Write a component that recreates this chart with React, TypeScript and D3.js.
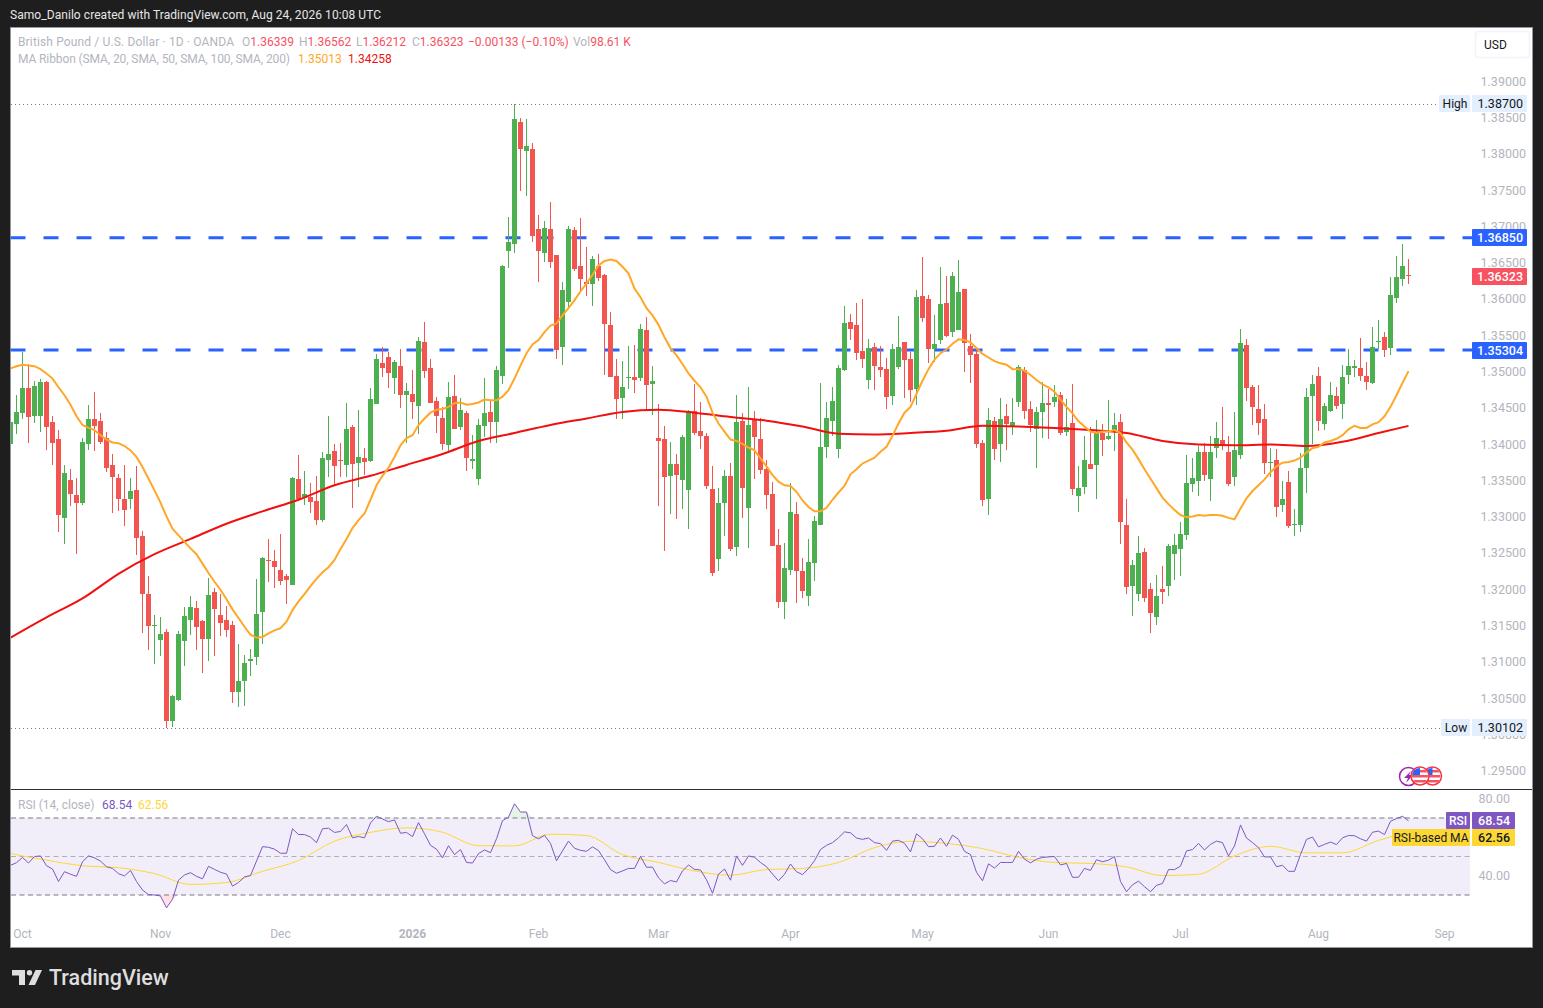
import React from 'react';
import * as d3 from 'd3';

const opens = [
  13401,13428,13443,13478,13439,13439,13486,13431,13408,13299,
  13351,13331,13320,13401,13435,13432,13409,13372,13354,13325,
  13325,13337,13274,13194,13150,13131,13142,13019,13048,13129,
  13158,13175,13157,13132,13197,13165,13158,13151,13059,13074,
  13102,13107,13169,13241,13240,13227,13219,13207,13353,13326,
  13328,13322,13296,13379,13391,13379,13372,13424,13375,13381,
  13377,13456,13512,13521,13492,13508,13468,13470,13453,13541,
  13505,13460,13437,13399,13467,13424,13444,13377,13353,13426,
  13445,13431,13495,13667,13676,13844,13805,13807,13697,13664,
  13697,13661,13534,13596,13696,13646,13624,13621,13646,13634,
  13565,13494,13464,13492,13493,13492,13558,13483,13409,13408,
  13357,13373,13351,13337,13446,13419,13412,13339,13242,13320,
  13357,13259,13432,13313,13435,13408,13366,13332,13262,13183,
  13227,13304,13226,13191,13237,13289,13397,13432,13394,13503,
  13569,13565,13529,13489,13534,13507,13504,13467,13507,13541,
  13518,13477,13605,13601,13532,13544,13595,13555,13558,13614,
  13536,13525,13402,13325,13432,13401,13439,13426,13459,13503,
  13449,13421,13445,13457,13459,13468,13417,13430,13329,13342,
  13373,13372,13416,13408,13417,13431,13289,13205,13194,13252,
  13201,13162,13201,13205,13249,13256,13276,13346,13350,13390,
  13353,13395,13406,13390,13355,13386,13537,13479,13449,13435,
  13375,13379,13317,13348,13289,13289,13368,13467,13495,13428,
  13446,13467,13456,13496,13505,13505,13495,13485,13541,13548,
  13533,13602,13628,13633.9,
];
const highs = [
  13457,13468,13528,13511,13488,13490,13488,13439,13420,13372,
  13366,13354,13409,13455,13472,13443,13417,13387,13360,13372,
  13354,13370,13281,13219,13165,13162,13146,13055,13143,13176,
  13191,13184,13158,13216,13202,13194,13178,13157,13125,13110,
  13118,13215,13245,13270,13255,13277,13222,13355,13386,13364,
  13347,13357,13390,13439,13401,13402,13457,13427,13448,13395,
  13478,13525,13534,13528,13517,13532,13485,13503,13548,13569,
  13518,13466,13452,13486,13496,13464,13446,13413,13435,13492,
  13460,13508,13647,13714,13870,13850,13849,13816,13716,13708,
  13734,13661,13624,13701,13700,13712,13672,13660,13663,13635,
  13583,13518,13515,13536,13537,13566,13576,13508,13456,13426,
  13403,13387,13413,13448,13483,13459,13416,13370,13340,13365,
  13375,13468,13443,13479,13446,13436,13379,13348,13284,13264,
  13347,13321,13244,13270,13302,13485,13459,13479,13510,13591,
  13580,13595,13601,13545,13540,13536,13519,13539,13577,13541,
  13528,13613,13658,13606,13579,13645,13632,13638,13654,13614,
  13552,13534,13406,13450,13438,13464,13456,13464,13510,13507,
  13460,13452,13486,13477,13482,13472,13463,13483,13370,13412,
  13424,13434,13428,13461,13443,13442,13325,13241,13274,13257,
  13209,13220,13233,13263,13277,13293,13386,13381,13398,13402,
  13412,13431,13452,13412,13445,13559,13546,13482,13482,13456,
  13395,13394,13350,13364,13311,13388,13478,13496,13507,13457,
  13486,13479,13510,13532,13517,13547,13514,13562,13572,13555,
  13631,13660,13676,13656.2,
];
const lows = [
  13397,13415,13435,13402,13430,13417,13393,13372,13280,13263,
  13315,13249,13317,13393,13391,13401,13362,13306,13308,13288,
  13311,13248,13140,13117,13098,13109,13010,13011,13047,13095,
  13138,13117,13085,13102,13109,13136,13135,13044,13038,13040,
  13081,13096,13125,13211,13202,13207,13180,13207,13322,13317,
  13306,13289,13294,13355,13343,13355,13355,13313,13342,13358,
  13376,13456,13493,13478,13470,13450,13402,13435,13415,13492,
  13457,13416,13392,13391,13421,13420,13364,13366,13344,13410,
  13402,13402,13483,13643,13664,13749,13743,13679,13624,13652,
  13643,13518,13510,13587,13639,13610,13605,13591,13625,13496,
  13493,13435,13435,13477,13471,13488,13446,13441,13315,13253,
  13304,13297,13311,13284,13413,13394,13339,13219,13226,13274,
  13253,13246,13299,13257,13353,13359,13311,13260,13175,13160,
  13220,13182,13189,13178,13212,13289,13381,13412,13381,13501,
  13544,13516,13506,13477,13475,13493,13449,13455,13504,13464,
  13459,13455,13569,13512,13514,13539,13548,13548,13558,13500,
  13485,13395,13315,13303,13379,13376,13393,13413,13452,13435,
  13417,13368,13409,13408,13452,13413,13412,13331,13307,13332,
  13366,13325,13384,13406,13391,13263,13194,13164,13184,13183,
  13140,13151,13180,13191,13213,13219,13269,13335,13329,13350,
  13322,13381,13393,13343,13343,13380,13460,13427,13413,13359,
  13355,13300,13307,13285,13274,13280,13333,13401,13419,13420,
  13445,13449,13435,13484,13493,13488,13475,13484,13532,13521,
  13523,13595,13618,13621.2,
];
const closes = [
  13431,13445,13478,13438,13481,13486,13424,13402,13303,13361,
  13332,13320,13404,13435,13426,13404,13368,13355,13325,13310,
  13336,13271,13194,13150,13151,13139,13019,13054,13139,13164,
  13176,13149,13132,13193,13173,13154,13144,13059,13074,13099,
  13105,13167,13244,13240,13231,13212,13213,13354,13325,13332,
  13321,13296,13381,13387,13370,13377,13421,13373,13383,13376,
  13463,13518,13505,13499,13514,13468,13474,13459,13543,13501,
  13457,13439,13401,13466,13421,13448,13381,13380,13427,13444,
  13431,13503,13646,13679,13849,13807,13811,13687,13667,13698,
  13652,13530,13613,13697,13642,13628,13621,13656,13629,13566,
  13493,13463,13479,13493,13489,13559,13482,13488,13405,13355,
  13373,13358,13410,13446,13416,13412,13343,13223,13320,13357,
  13256,13431,13340,13427,13410,13365,13331,13260,13183,13230,
  13307,13226,13198,13238,13295,13397,13437,13460,13505,13567,
  13559,13526,13518,13533,13508,13503,13466,13532,13534,13517,
  13475,13603,13574,13532,13539,13594,13549,13632,13610,13540,
  13523,13401,13324,13434,13394,13435,13428,13431,13507,13446,
  13427,13445,13457,13455,13466,13416,13424,13339,13340,13379,
  13366,13416,13406,13412,13427,13293,13204,13234,13251,13189,
  13168,13191,13197,13260,13262,13277,13347,13354,13390,13358,
  13390,13409,13399,13346,13393,13540,13478,13452,13430,13375,
  13376,13314,13325,13288,13291,13368,13465,13484,13433,13453,
  13468,13453,13493,13508,13508,13495,13486,13534,13543,13530,
  13606,13631,13646,13632.3,
];
const ma20 = [
  13505,13508,13510,13509,13508,13504,13498,13491,13479,13468,
  13455,13439,13427,13423,13420,13413,13407,13403,13402,13398,
  13392,13383,13369,13353,13337,13320,13301,13284,13275,13266,
  13257,13249,13236,13223,13211,13200,13187,13173,13161,13149,
  13138,13134,13135,13140,13144,13147,13156,13172,13184,13194,
  13205,13215,13224,13231,13241,13256,13270,13285,13296,13305,
  13324,13344,13357,13368,13383,13399,13409,13413,13427,13436,
  13444,13448,13449,13452,13457,13458,13455,13456,13458,13462,
  13461,13461,13466,13475,13491,13509,13526,13538,13544,13555,
  13564,13567,13578,13588,13599,13611,13622,13634,13647,13653,
  13655,13653,13645,13636,13615,13603,13588,13578,13565,13548,
  13533,13523,13511,13498,13488,13479,13466,13444,13429,13418,
  13407,13405,13401,13396,13392,13381,13370,13358,13349,13344,
  13343,13335,13323,13314,13308,13308,13313,13324,13334,13343,
  13359,13366,13374,13378,13382,13390,13397,13412,13429,13444,
  13452,13470,13488,13504,13517,13526,13531,13539,13545,13544,
  13541,13533,13525,13520,13515,13512,13510,13504,13504,13502,
  13496,13489,13483,13479,13473,13462,13452,13443,13432,13425,
  13418,13416,13418,13418,13420,13416,13403,13393,13380,13366,
  13353,13340,13327,13318,13310,13303,13300,13301,13303,13302,
  13303,13303,13302,13299,13297,13312,13326,13336,13344,13352,
  13362,13370,13375,13376,13378,13382,13389,13395,13397,13403,
  13405,13408,13413,13421,13426,13423,13423,13428,13431,13439,
  13452,13468,13485,13501.3,
];
// smooth lines, read every sixth candle
const ma200At = [
  0,6,12,18,24,30,36,42,48,54,60,66,72,78,84,90,96,102,108,114,120,126,132,138,
  144,150,156,162,168,174,180,186,192,198,204,210,216,222,228,233,
];
const ma200 = [
  13134,13162,13188,13222,13249,13270,13291,13308,13324,13344,13357,13372,13387,13405,13416,13427,13436,13445,13448,13444,13438,13433,13425,13415,
  13414,13416,13419,13426,13425,13423,13420,13416,13405,13400,13399,13400,13398,13404,13416,13425.8,
];
const rsi = [
  45.4,46.8,49.5,46.6,50.0,50.3,45.2,43.5,37.0,42.1,
  40.8,39.7,47.3,50.3,49.3,47.6,44.7,43.8,41.1,39.9,
  42.8,37.0,32.6,30.2,30.0,29.5,23.3,27.8,37.7,40.4,
  41.6,39.7,38.4,44.9,43.3,41.8,40.9,34.6,36.5,39.4,
  40.1,47.6,55.1,54.8,53.8,51.7,51.7,64.4,61.4,61.4,
  60.1,57.2,64.4,64.7,62.5,63.0,66.6,59.7,60.4,59.7,
  67.4,70.9,69.5,68.1,69.0,62.1,62.5,60.3,67.6,61.8,
  55.8,53.8,49.3,55.6,51.0,53.6,46.9,46.6,51.5,53.4,
  52.0,59.2,68.6,70.5,77.4,73.1,73.1,60.8,59.2,61.0,
  56.8,47.8,52.9,58.0,54.3,53.2,52.7,55.0,53.1,48.3,
  43.2,41.3,42.5,43.8,43.8,50.0,44.4,44.5,38.9,35.8,
  37.5,36.8,42.5,45.6,43.3,43.0,37.9,30.9,40.8,43.5,
  37.7,50.3,45.4,50.3,49.6,46.9,44.7,40.9,37.4,40.8,
  46.1,42.1,40.6,43.7,47.8,53.6,55.8,57.2,59.7,62.8,
  62.3,59.6,58.9,59.6,57.2,56.7,53.2,58.0,58.4,56.8,
  52.4,61.8,59.2,55.1,55.3,59.6,55.3,61.1,58.9,52.7,
  51.0,41.8,37.4,46.2,44.0,46.9,46.9,46.9,52.7,48.6,
  46.7,48.6,49.5,49.8,50.0,45.6,46.4,39.2,39.2,43.8,
  42.8,48.3,47.3,48.1,50.0,37.0,31.7,35.3,37.2,34.3,
  31.7,35.0,36.0,43.2,43.2,45.0,52.9,53.6,56.8,53.4,
  56.3,58.0,57.2,50.3,55.5,66.4,59.6,57.2,54.6,49.8,
  49.8,44.7,45.4,42.3,42.3,51.0,58.9,60.1,55.0,56.3,
  57.5,56.2,59.7,60.9,60.8,59.2,58.0,62.6,63.2,61.4,
  68.3,69.7,70.9,68.54,
];
const rsiMa = [
  51.5,48.1,45.2,44.2,41.1,35.5,36.5,42.3,47.9,58.0,62.5,64.9,62.6,55.6,55.5,61.6,60.9,51.0,46.9,42.5,40.3,43.2,43.8,46.9,
  54.6,57.9,56.8,54.1,49.6,46.9,46.4,44.6,40.1,40.8,50.3,55.3,51.9,51.9,58.4,62.56,
];

const priceTicks = [1.39,1.385,1.38,1.375,1.37,1.365,1.36,1.355,1.35,1.345,1.34,1.335,1.33,1.325,1.32,1.315,1.31,1.305,1.3,1.295];
const rsiTicks = [80,40];
const monthLabels = ['Oct','Nov','Dec','2026','Feb','Mar','Apr','May','Jun','Jul','Aug','Sep'];
const monthAt = [2,25,45,67,88,108,130,152,173,195,218,239];
const levels = [1.3685,1.35304];

const UP = '#4CAF50';
const DOWN = '#F25450';
const GREY = '#B2B5BE';
const FONT = 'Roboto, "Noto Sans", sans-serif';

const x = d3.scaleLinear().domain([0, 233]).range([10.5, 1408.5]);
const y = d3.scaleLinear().domain([1.30102, 1.387]).range([727.5, 103.5]);
const yPip = (p: number) => y(p / 10000);
const yRsi = d3.scaleLinear().domain([30, 70]).range([895, 818]);

const FlagIcon = ({ cx, cy }: { cx: number; cy: number }) => (
  <g transform={`translate(${cx},${cy})`}>
    <circle r={9} fill="#fff" stroke="#F23645" strokeWidth={1.5} />
    <g clipPath="url(#flagClip)">
      <rect x={-8} y={-6} width={16} height={2.5} fill="#F7525F" />
      <rect x={-8} y={-1} width={16} height={2.5} fill="#F7525F" />
      <rect x={-8} y={4} width={16} height={2.5} fill="#F7525F" />
      <rect x={-8} y={-8} width={8} height={7} fill="#2962FF" />
    </g>
  </g>
);

const PriceTag = ({ yc, text, fill, color = '#fff', weight = 500 }: { yc: number; text: string; fill: string; color?: string; weight?: number }) => (
  <g>
    <rect x={1472} y={yc - 8.5} width={55} height={17} rx={1} fill={fill} />
    <text x={1523} y={yc + 4.5} textAnchor="end" fontSize={12.5} fontWeight={weight} fill={color}>{text}</text>
  </g>
);

export default function App() {
  const ma20Line = d3.line<number>().x((_, i) => x(i)).y(d => yPip(d));
  const ma200Line = d3.line<number>().x((_, i) => x(ma200At[i])).y(d => yPip(d)).curve(d3.curveMonotoneX);
  const rsiLine = d3.line<number>().x((_, i) => x(i)).y(d => yRsi(d));
  const rsiMaLine = d3.line<number>().x((_, i) => x(ma200At[i])).y(d => yRsi(d)).curve(d3.curveMonotoneX);
  const overArea = d3.area<number>().x((_, i) => x(i)).y0(yRsi(70)).y1(d => yRsi(Math.max(d, 70)));
  const underArea = d3.area<number>().x((_, i) => x(i)).y0(yRsi(30)).y1(d => yRsi(Math.min(d, 30)));

  return (
    <svg
      width={1543}
      height={1008}
      style={{ position: 'fixed', left: 0, top: 0, background: '#1E1E1E' }}
      fontFamily={FONT}
    >
      <defs>
        <clipPath id="plot"><rect x={11} y={28} width={1461} height={761} /></clipPath>
        <clipPath id="rsiPlot"><rect x={11} y={790} width={1461} height={130} /></clipPath>
        <clipPath id="flagClip"><circle r={8} /></clipPath>
      </defs>

      <text x={10} y={18.5} fontSize={12} textLength={371} fill="#E6E6E6">Samo_Danilo created with TradingView.com, Aug 24, 2026 10:08 UTC</text>

      <rect x={10.5} y={27.5} width={1522} height={920} fill="#fff" stroke="#9598A1" />
      <line x1={11} x2={1532} y1={789.5} y2={789.5} stroke="#2A2E39" />

      {/* high / low markers and the two drawn levels sit behind the candles */}
      {[1.387, 1.30102].map(p => (
        <line key={p} x1={11} x2={1440} y1={Math.round(y(p)) + 0.5} y2={Math.round(y(p)) + 0.5} stroke="#787B86" strokeDasharray="1 3" />
      ))}
      {levels.map(p => (
        <line key={p} x1={10.5} x2={1472} y1={y(p)} y2={y(p)} stroke="#2962FF" strokeWidth={3} strokeDasharray="15 18" />
      ))}

      <g clipPath="url(#plot)" shapeRendering="crispEdges">
        {closes.map((c, i) => {
          const color = c >= opens[i] ? UP : DOWN;
          const cx = Math.floor(x(i));
          const top = Math.round(yPip(Math.max(c, opens[i])));
          const bottom = Math.round(yPip(Math.min(c, opens[i])));
          const hi = Math.round(yPip(highs[i]));
          const lo = Math.round(yPip(lows[i]));
          return (
            <g key={i} fill={color}>
              <rect x={cx} y={hi} width={1} height={Math.max(lo - hi, 1)} />
              <rect x={cx - 2} y={top} width={5} height={Math.max(bottom - top, 1)} />
            </g>
          );
        })}
      </g>

      <g clipPath="url(#plot)" fill="none" strokeWidth={2}>
        <path d={ma200Line(ma200) ?? ''} stroke="#F01010" />
        <path d={ma20Line(ma20) ?? ''} stroke="#FFA726" />
      </g>

      {/* price axis */}
      <g fontSize={12.5} fill={GREY} textAnchor="end">
        {priceTicks.map(p => (
          <text key={p} x={1526} y={y(p) + 4}>{p.toFixed(5)}</text>
        ))}
      </g>
      <rect x={1475.5} y={31.5} width={54} height={26} rx={3} fill="#fff" stroke="#F0F3FA" strokeWidth={1.5} />
      <text x={1484} y={49} fontSize={12} fill="#131722">USD</text>

      <rect x={1439} y={95} width={31} height={17} rx={1} fill="#E3EFFD" />
      <text x={1455} y={107.5} textAnchor="middle" fontSize={12} fill="#131722">High</text>
      <PriceTag yc={103.5} text="1.38700" fill="#E3EFFD" color="#131722" weight={400} />
      <rect x={1441} y={719} width={29} height={17} rx={1} fill="#E3EFFD" />
      <text x={1456} y={731.5} textAnchor="middle" fontSize={12} fill="#131722">Low</text>
      <PriceTag yc={727.5} text="1.30102" fill="#E3EFFD" color="#131722" weight={400} />
      <PriceTag yc={237.5} text="1.36850" fill="#2962FF" />
      <PriceTag yc={350.5} text="1.35304" fill="#2962FF" />
      <PriceTag yc={276.5} text="1.36323" fill="#F7525F" />

      {/* event icons */}
      <FlagIcon cx={1432.5} cy={776} />
      <circle cx={1408.5} cy={776.5} r={9} fill="#fff" stroke="#9C27B0" strokeWidth={1.5} />
      <path d="M1411 771 L1404 778 L1408 778 L1406 783 L1413 775 L1409 775 Z" fill="#9C27B0" />
      <FlagIcon cx={1420} cy={776} />

      {/* legend */}
      <g fontSize={12}>
        <text x={18} y={46} textLength={216} fill={GREY}>British Pound / U.S. Dollar · 1D · OANDA</text>
        <text x={242} y={46} fill={GREY}>O<tspan fill="#F7525F">1.36339</tspan></text>
        <text x={299} y={46} fill={GREY}>H<tspan fill="#F7525F">1.36562</tspan></text>
        <text x={356} y={46} fill={GREY}>L<tspan fill="#F7525F">1.36212</tspan></text>
        <text x={412} y={46} fill={GREY}>C<tspan fill="#F7525F">1.36323</tspan></text>
        <text x={468} y={46} fill="#F7525F">−0.00133 (−0.10%)</text>
        <text x={573} y={46} fill={GREY}>Vol<tspan fill="#F7525F">98.61 K</tspan></text>
        <text x={18} y={63} textLength={272} fill={GREY}>MA Ribbon (SMA, 20, SMA, 50, SMA, 100, SMA, 200)</text>
        <text x={298} y={63} fill="#FFA726">1.35013</text>
        <text x={348} y={63} fill="#F01010">1.34258</text>
      </g>

      {/* RSI pane */}
      <rect x={11} y={yRsi(70)} width={1459} height={yRsi(30) - yRsi(70)} fill="#7E57C2" fillOpacity={0.1} />
      <line x1={11} x2={1470} y1={yRsi(70)} y2={yRsi(70)} stroke="#787B86" strokeDasharray="5 3.5" />
      <line x1={11} x2={1470} y1={yRsi(50)} y2={yRsi(50)} stroke="#787B86" strokeOpacity={0.55} strokeDasharray="5 3.5" />
      <line x1={11} x2={1470} y1={yRsi(30)} y2={yRsi(30)} stroke="#787B86" strokeDasharray="5 3.5" />
      <g clipPath="url(#rsiPlot)">
        <path d={overArea(rsi) ?? ''} fill="#4CAF50" fillOpacity={0.15} />
        <path d={underArea(rsi) ?? ''} fill="#F23645" fillOpacity={0.15} />
        <path d={rsiMaLine(rsiMa) ?? ''} fill="none" stroke="#FDD835" strokeWidth={1} />
        <path d={rsiLine(rsi) ?? ''} fill="none" stroke="#7E57C2" strokeWidth={1} />
      </g>
      <text x={18} y={809} fontSize={12} fill={GREY}>RSI (14, close)</text>
      <text x={102} y={809} fontSize={12} fill="#7E57C2">68.54</text>
      <text x={138} y={809} fontSize={12} fill="#FDD835">62.56</text>

      <g fontSize={12.5} fill={GREY} textAnchor="end">
        {rsiTicks.map(v => (
          <text key={v} x={1510} y={yRsi(v) + 4}>{v.toFixed(2)}</text>
        ))}
      </g>
      <rect x={1446} y={812} width={24} height={17} rx={1} fill="#7E57C2" />
      <text x={1458} y={825} textAnchor="middle" fontSize={12} fontWeight={500} fill="#fff">RSI</text>
      <rect x={1472} y={812} width={43} height={17} rx={1} fill="#7E57C2" />
      <text x={1510} y={825} textAnchor="end" fontSize={12.5} fontWeight={500} fill="#fff">68.54</text>
      <rect x={1392} y={829} width={78} height={17} rx={1} fill="#FDD835" />
      <text x={1431} y={842} textAnchor="middle" fontSize={12} fill="#131722">RSI-based MA</text>
      <rect x={1472} y={829} width={43} height={17} rx={1} fill="#FDD835" />
      <text x={1510} y={842} textAnchor="end" fontSize={12.5} fontWeight={500} fill="#131722">62.56</text>

      {/* time axis */}
      <g fontSize={12} fill={GREY} textAnchor="middle">
        {monthLabels.map((m, i) => (
          <text key={m} x={x(monthAt[i])} y={938} fontWeight={m === '2026' ? 700 : 400}>{m}</text>
        ))}
      </g>

      {/* logo */}
      <g fill="#DEDEDE">
        <path d="M12 970 H25 V985 H19 V975.5 H12 Z" />
        <circle cx={29.5} cy={972.7} r={2.7} />
        <path d="M35.5 970 H42 L35 985 H28.5 Z" />
        <text x={49} y={985} fontSize={21.5} fontWeight={500}>TradingView</text>
      </g>
    </svg>
  );
}
